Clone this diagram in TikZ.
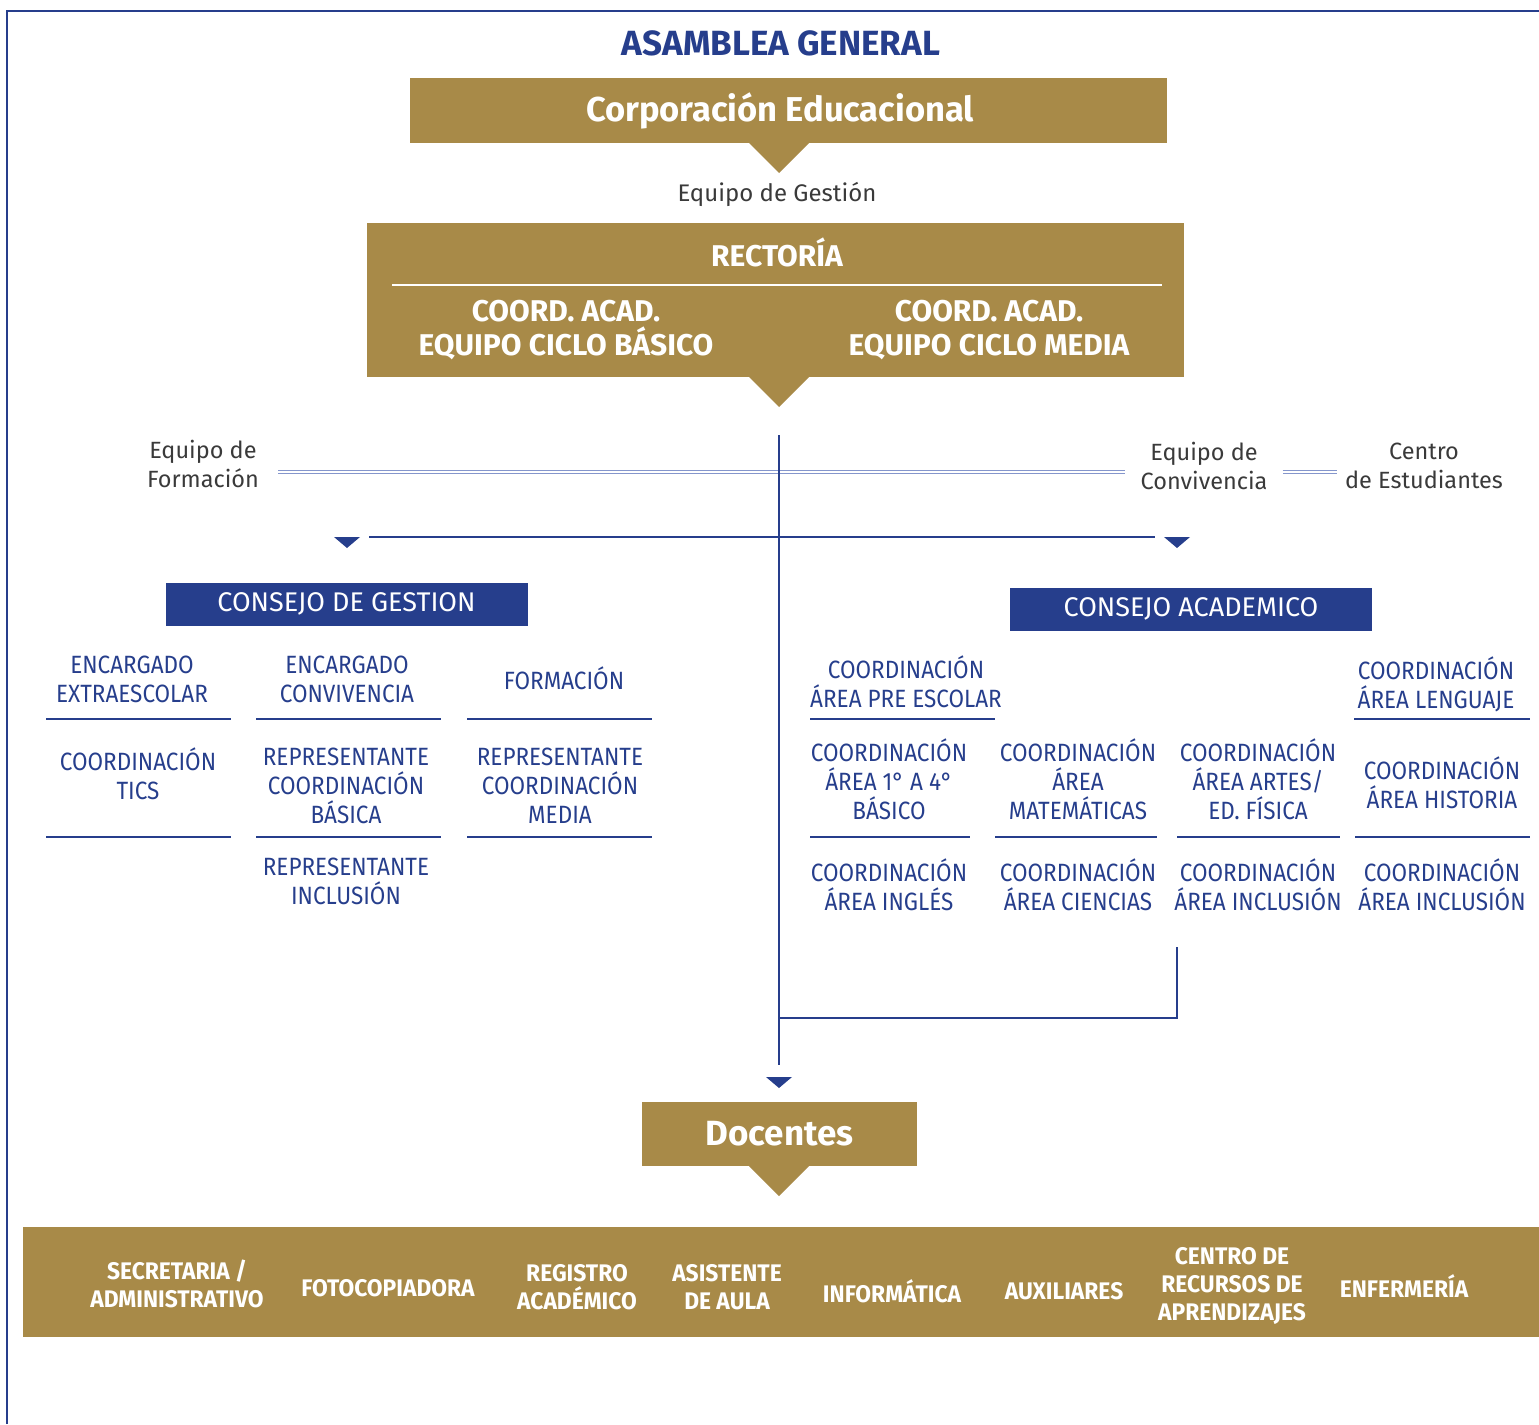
\documentclass[tikz,border=0pt]{standalone}
\usepackage{fontspec}
\setmainfont{Fira Sans}
\newfontfamily\cond[FakeStretch=0.9]{Fira Sans}
\newfontfamily\condb[FakeStretch=0.95]{Fira Sans}
\definecolor{gold}{HTML}{A88A48}
\definecolor{navy}{HTML}{263E8C}
\definecolor{paleblue}{HTML}{8596CC}
\definecolor{ink}{HTML}{3A3A3A}

\tikzset{
  goldbox/.style={fill=gold, text=white, inner sep=0pt},
  bluebox/.style={fill=navy, text=white, inner sep=0pt, minimum width=362pt, minimum height=43pt, font=\fontsize{27}{32}\selectfont},
  head/.style={text=white, align=center, font=\bfseries\fontsize{30}{34}\selectfont},
  cell/.style={text=navy, align=center, inner sep=0pt, font=\cond\fontsize{25}{29}\selectfont},
  item/.style={text=white, align=center, inner sep=0pt, font=\condb\bfseries\fontsize{24}{28}\selectfont},
  note/.style={text=ink, align=center, inner sep=0pt, font=\fontsize{23.5}{29}\selectfont},
  wire/.style={draw=navy, line width=2.5pt},
  rule/.style={draw=navy, line width=1.6pt},
  dbl/.style={draw=paleblue, double=white, double distance=1.4pt, line width=1pt}
}

\newcommand{\notch}[2]{\fill[gold] (#1,#2) ++(-30,0) -- ++(60,0) -- ++(-30,30) -- cycle;}
\newcommand{\tipdown}[2]{\fill[navy] (#1,#2) ++(-13,0) -- ++(26,0) -- ++(-13,11) -- cycle;}

\begin{document}
\begin{tikzpicture}[x=1pt, y=-1pt]
  \useasboundingbox (0,0) rectangle (1539,1424);
  \draw[navy, line width=2pt] (7,1424) -- (7,11) -- (1539,11);

  \node[text=navy, font=\bfseries\fontsize{35}{40}\selectfont] (asamblea) at (781,43) {ASAMBLEA GENERAL};

  % gold blocks
  \node[goldbox, minimum width=757pt, minimum height=65pt, font=\bfseries\fontsize{34.5}{40}\selectfont] (corp) at (788.5,110.5) {\hspace*{-17pt}Corporación Educacional};
  \notch{779}{143}
  \node[note, font=\fontsize{24}{29}\selectfont] (gestion) at (777,194) {Equipo de Gestión};

  \node[goldbox, minimum width=817pt, minimum height=154pt] (rect) at (775.5,300) {};
  \node[head] (rectoria) at (777,252) {RECTORÍA};
  \draw[white, line width=2.5pt] (392,285) -- (1162,285);
  \node[head] (cicbas) at (566,330) {COORD. ACAD.\\EQUIPO CICLO BÁSICO};
  \node[head] (cicmed) at (989,330) {COORD. ACAD.\\EQUIPO CICLO MEDIA};
  \notch{779}{377}

  % side teams
  \begin{scope}[every node/.style={note}]
    \node (form) at (203,464) {Equipo de\\Formación};
    \node (conv) at (1204,466) {Equipo de\\Convivencia};
    \node (centro) at (1424,466) {Centro\\de Estudiantes};
  \end{scope}
  \draw[dbl, shorten <=19pt, shorten >=15pt] ([yshift=-8pt]form.east) -- ([yshift=-6pt]conv.west);
  \draw[dbl, shorten <=15pt, shorten >=8pt] ([yshift=-6pt]conv.east) -- ([yshift=-6pt]centro.west);

  % main lines
  \coordinate (vtop) at (779,435);
  \coordinate (vbot) at (779,1065);
  \coordinate (hl) at (369,537);
  \coordinate (hr) at (1155,537);
  \coordinate (inc) at (1177,947);
  \draw[wire] (vtop) -- (vbot);
  \draw[wire] (hl) -- (hr);
  \draw[wire] (inc) |- (779,1018);
  \tipdown{347}{537}
  \tipdown{1177}{537}
  \tipdown{779}{1077}

  % councils
  \node[bluebox] (cgest) at (346.5,604) {CONSEJO DE GESTION};
  \node[bluebox] (cacad) at (1191,609) {CONSEJO ACADEMICO};

  \begin{scope}[every node/.style={cell}]
    \node (extra) at (132,679) {ENCARGADO\\EXTRAESCOLAR};
    \node (encconv) at (347,679) {ENCARGADO\\CONVIVENCIA};
    \node (formac) at (564,678) {FORMACIÓN};
    \node (tics) at (138,774) {COORDINACIÓN\\TICS};
    \node (repbas) at (346,786) {REPRESENTANTE\\COORDINACIÓN\\BÁSICA};
    \node (repmed) at (560,786) {REPRESENTANTE\\COORDINACIÓN\\MEDIA};
    \node (repinc) at (346,881) {REPRESENTANTE\\INCLUSIÓN};

    \node (presc) at (906,682) {COORDINACIÓN\\ÁREA PRE ESCOLAR};
    \node (leng) at (1436,684) {COORDINACIÓN\\ÁREA LENGUAJE};
    \node (basico) at (889,779) {COORDINACIÓN\\ÁREA 1° A 4°\\BÁSICO};
    \node (mate) at (1078,779) {COORDINACIÓN\\ÁREA\\MATEMÁTICAS};
    \node (artes) at (1258,779) {COORDINACIÓN\\ÁREA ARTES/\\ED. FÍSICA};
    \node (hist) at (1442,783) {COORDINACIÓN\\ÁREA HISTORIA};
    \node (ingles) at (889,885) {COORDINACIÓN\\ÁREA INGLÉS};
    \node (cien) at (1078,885) {COORDINACIÓN\\ÁREA CIENCIAS};
    \node (incl) at (1258,885) {COORDINACIÓN\\ÁREA INCLUSIÓN};
    \node (incl2) at (1442,885) {COORDINACIÓN\\ÁREA INCLUSIÓN};
  \end{scope}

  \foreach \a/\b in {46/231, 256/441, 467/652, 810/995, 1354/1530}
    \draw[rule] (\a,719) -- (\b,719);
  \foreach \a/\b in {46/231, 256/441, 467/652, 810/970, 995/1157, 1177/1340, 1355/1530}
    \draw[rule] (\a,837) -- (\b,837);

  % teachers and staff
  \node[goldbox, minimum width=275pt, minimum height=64pt, font=\bfseries\fontsize{35}{40}\selectfont] (doc) at (779.5,1134) {Docentes};
  \notch{779}{1166}

  \node[goldbox, minimum width=1516pt, minimum height=110pt] (staff) at (781,1282) {};
  \begin{scope}[every node/.style={item}]
    \node (secre) at (177,1284) {SECRETARIA /\\ADMINISTRATIVO};
    \node (foto) at (388,1288) {FOTOCOPIADORA};
    \node (regis) at (577,1287) {REGISTRO\\ACADÉMICO};
    \node (asist) at (727,1287) {ASISTENTE\\DE AULA};
    \node (infor) at (892,1291) {INFORMÁTICA};
    \node (auxil) at (1064,1291) {AUXILIARES};
    \node (recur) at (1232,1286) {CENTRO DE\\RECURSOS DE\\APRENDIZAJES};
    \node (enfer) at (1404,1286) {ENFERMERÍA};
  \end{scope}

\end{tikzpicture}
\end{document}
